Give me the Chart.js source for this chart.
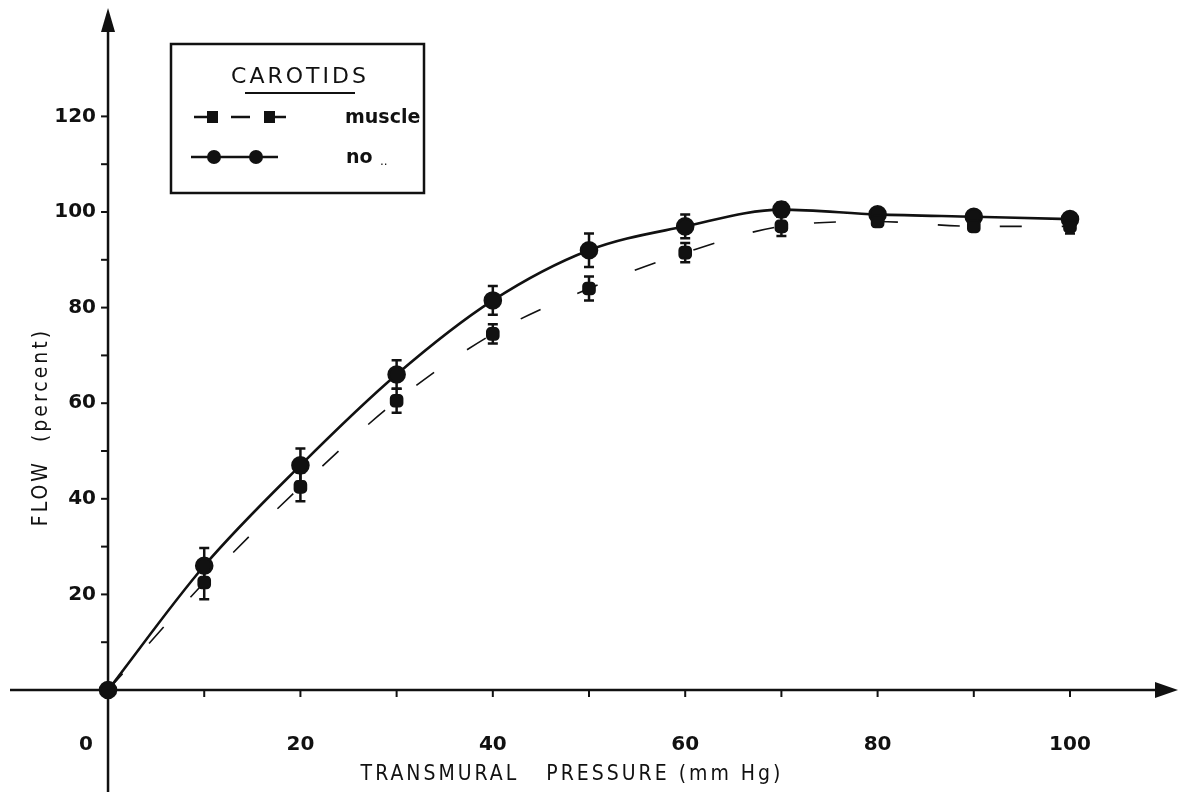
<!DOCTYPE html>
<html>
<head>
<meta charset="utf-8">
<script src="https://cdn.jsdelivr.net/npm/chart.js@4.4.1/dist/chart.umd.min.js"></script>
<style>
  html, body { margin: 0; padding: 0; background: #fff; }
  #wrap { width: 1181px; height: 798px; }
</style>
</head>
<body>
<div id="wrap"><canvas id="flowChart" width="1181" height="798"></canvas></div>
<script>
// transmural pressure (mm Hg)
const pressure = [0, 10, 20, 30, 40, 50, 60, 70, 80, 90, 100];
// flow (percent), carotids with muscle
const muscleFlow = [0, 22.5, 42.5, 60.5, 74.5, 84, 91.5, 97, 98, 97, 97];
const muscleErr = [0, 3.5, 3, 2.5, 2, 2.5, 2, 2, 1, 1, 1.5];
// flow (percent), carotids without muscle
const noFlow = [0, 26, 47, 66, 81.5, 92, 97, 100.5, 99.5, 99, 98.5];
const noErr = [0, 3.7, 3.5, 3, 3, 3.5, 2.5, 1.5, 1, 1, 1];

const xTickLabels = [0, 20, 40, 60, 80, 100];
const yTickLabels = [20, 40, 60, 80, 100, 120];
const minorStep = 10;

const INK = '#111';

const toPoints = (ys) => pressure.map((x, i) => ({ x: x, y: ys[i] }));

// error bars + hand-drawn style axes, all placed through the chart's scales
const sketchPlugin = {
    id: 'sketch',
    beforeDatasetsDraw(chart) {
        const ctx = chart.ctx;
        const xs = chart.scales.x;
        const ys = chart.scales.y;
        const x0 = xs.getPixelForValue(0);
        const y0 = ys.getPixelForValue(0);
        ctx.save();
        ctx.strokeStyle = INK;
        ctx.fillStyle = INK;
        ctx.lineWidth = 2.5;

        // x axis line + arrow
        ctx.beginPath();
        ctx.moveTo(xs.left + 10, y0);
        ctx.lineTo(xs.right - 10, y0);
        ctx.stroke();
        ctx.beginPath();
        ctx.moveTo(xs.right - 3, y0);
        ctx.lineTo(xs.right - 26, y0 - 8);
        ctx.lineTo(xs.right - 26, y0 + 8);
        ctx.closePath();
        ctx.fill();

        // y axis line + arrow
        ctx.beginPath();
        ctx.moveTo(x0, ys.bottom - 6);
        ctx.lineTo(x0, ys.top + 14);
        ctx.stroke();
        ctx.beginPath();
        ctx.moveTo(x0, ys.top + 8);
        ctx.lineTo(x0 - 7, ys.top + 32);
        ctx.lineTo(x0 + 7, ys.top + 32);
        ctx.closePath();
        ctx.fill();

        // minor ticks
        ctx.lineWidth = 2;
        for (let v = minorStep; v <= 100; v += minorStep) {
            const px = xs.getPixelForValue(v);
            ctx.beginPath();
            ctx.moveTo(px, y0);
            ctx.lineTo(px, y0 + 7);
            ctx.stroke();
        }
        for (let v = minorStep; v <= 120; v += minorStep) {
            const py = ys.getPixelForValue(v);
            ctx.beginPath();
            ctx.moveTo(x0, py);
            ctx.lineTo(x0 - 7, py);
            ctx.stroke();
        }

        // tick labels
        ctx.font = 'bold 20px "DejaVu Sans", sans-serif';
        ctx.textBaseline = 'middle';
        ctx.textAlign = 'center';
        xTickLabels.forEach((v) => {
            const px = v === 0 ? x0 - 22 : xs.getPixelForValue(v);
            ctx.fillText(String(v), px, y0 + 55);
        });
        ctx.textAlign = 'right';
        yTickLabels.forEach((v) => {
            ctx.fillText(String(v), x0 - 12, ys.getPixelForValue(v));
        });

        // axis titles
        ctx.textAlign = 'center';
        ctx.font = '21px "DejaVu Sans Condensed", "DejaVu Sans", sans-serif';
        ctx.letterSpacing = '3px';
        ctx.fillText('TRANSMURAL   PRESSURE (mm Hg)', 572, y0 + 85);
        ctx.save();
        ctx.translate(x0 - 66, ys.getPixelForValue(55));
        ctx.rotate(-Math.PI / 2);
        ctx.letterSpacing = '3px';
        ctx.fillText('FLOW  (percent)', 0, 0);
        ctx.restore();
        ctx.letterSpacing = '0px';

        // error bars
        const drawErr = (vals, errs) => {
            ctx.lineWidth = 2.5;
            pressure.forEach((x, i) => {
                if (!errs[i]) return;
                const px = xs.getPixelForValue(x);
                const top = ys.getPixelForValue(vals[i] + errs[i]);
                const bot = ys.getPixelForValue(vals[i] - errs[i]);
                ctx.beginPath();
                ctx.moveTo(px, top);
                ctx.lineTo(px, bot);
                ctx.moveTo(px - 5, top);
                ctx.lineTo(px + 5, top);
                ctx.moveTo(px - 5, bot);
                ctx.lineTo(px + 5, bot);
                ctx.stroke();
            });
        };
        drawErr(muscleFlow, muscleErr);
        drawErr(noFlow, noErr);
        ctx.restore();
    },
    afterDraw(chart) {
        // boxed key in the upper left
        const ctx = chart.ctx;
        ctx.save();
        ctx.strokeStyle = INK;
        ctx.fillStyle = INK;
        ctx.lineWidth = 2.5;
        ctx.strokeRect(171, 44, 253, 149);

        ctx.font = '22px "DejaVu Sans", sans-serif';
        ctx.textAlign = 'center';
        ctx.textBaseline = 'middle';
        ctx.letterSpacing = '3px';
        ctx.fillText('CAROTIDS', 300, 77);
        ctx.letterSpacing = '0px';
        ctx.lineWidth = 2;
        ctx.beginPath();
        ctx.moveTo(245, 93);
        ctx.lineTo(355, 93);
        ctx.stroke();

        // muscle row
        ctx.lineWidth = 2.5;
        ctx.beginPath();
        ctx.moveTo(194, 117); ctx.lineTo(216, 117);
        ctx.moveTo(231, 117); ctx.lineTo(250, 117);
        ctx.moveTo(264, 117); ctx.lineTo(286, 117);
        ctx.stroke();
        ctx.fillRect(207, 111, 11, 12);
        ctx.fillRect(264, 111, 11, 12);

        // no row
        ctx.beginPath();
        ctx.moveTo(191, 157); ctx.lineTo(278, 157);
        ctx.stroke();
        [214, 256].forEach((cx) => {
            ctx.beginPath();
            ctx.arc(cx, 157, 7, 0, Math.PI * 2);
            ctx.fill();
        });

        ctx.font = 'bold 19px "DejaVu Sans", sans-serif';
        ctx.textAlign = 'left';
        ctx.fillText('muscle', 345, 118);
        ctx.fillText('no', 346, 158);
        ctx.font = '12px "DejaVu Sans", sans-serif';
        ctx.fillText('..', 380, 162);
        ctx.restore();
    }
};

const ctx = document.getElementById('flowChart').getContext('2d');
new Chart(ctx, {
    type: 'line',
    data: {
        datasets: [
            {
                label: 'muscle',
                data: toPoints(muscleFlow),
                borderColor: INK,
                backgroundColor: INK,
                borderWidth: 1.6,
                borderDash: [22, 40],
                pointStyle: 'rectRounded',
                pointRadius: (c) => (c.dataIndex === 0 ? 0 : 7),
                cubicInterpolationMode: 'monotone'
            },
            {
                label: 'no',
                data: toPoints(noFlow),
                borderColor: INK,
                backgroundColor: INK,
                borderWidth: 2.6,
                pointStyle: 'circle',
                pointRadius: 8,
                cubicInterpolationMode: 'monotone'
            }
        ]
    },
    options: {
        responsive: false,
        animation: false,
        layout: { padding: 0, autoPadding: false },
        scales: {
            x: { type: 'linear', min: -11.23, max: 111.54, display: false },
            y: { type: 'linear', min: -22.59, max: 144.35, display: false }
        },
        plugins: {
            legend: { display: false },
            tooltip: { enabled: false }
        }
    },
    plugins: [sketchPlugin]
});
</script>
</body>
</html>
